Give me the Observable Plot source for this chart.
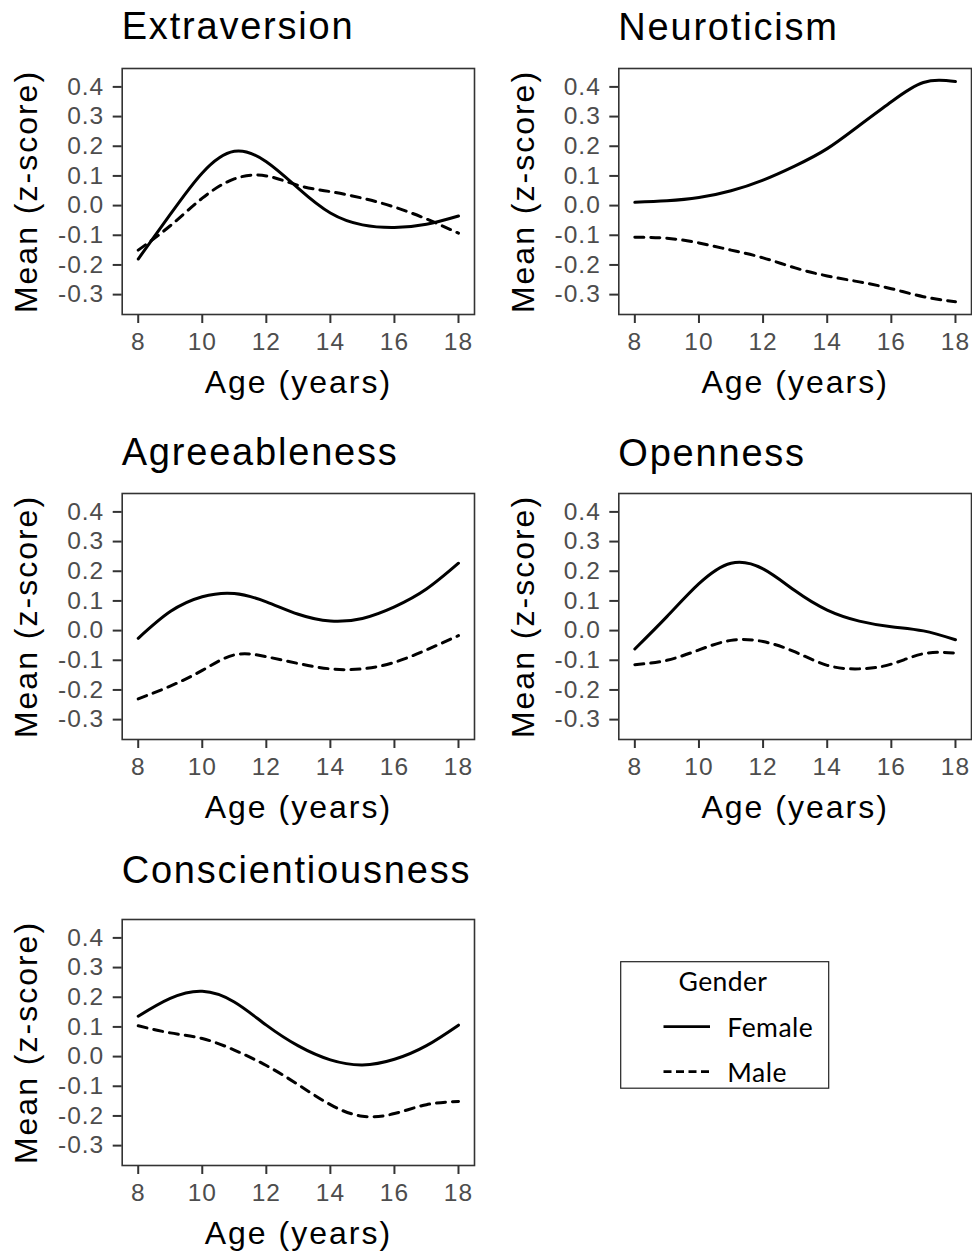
<!DOCTYPE html>
<html><head><meta charset="utf-8">
<script src="https://cdn.jsdelivr.net/npm/d3@7"></script>
<script src="https://cdn.jsdelivr.net/npm/@observablehq/plot@0.6"></script>
<style>
body{margin:0;background:#fff;}
#wrap{position:relative;width:972px;height:1251px;overflow:hidden;background:#fff;font-family:"Liberation Sans",Arial,sans-serif;}
.panel{position:absolute;}
.ptitle{position:absolute;font-size:38px;line-height:38px;letter-spacing:1.8px;color:#000;white-space:nowrap;}
</style></head><body><div id="wrap"></div>
<script>
// ---- data ----
const ages = [8, 9, 10, 11, 12, 13, 14, 15, 16, 17, 18];
const traits = ["Extraversion", "Neuroticism", "Agreeableness", "Openness", "Conscientiousness"];
const genders = ["Female", "Male"];
const femaleExtraversion = [-0.18, -0.03, 0.11, 0.183, 0.148, 0.058, -0.025, -0.065, -0.074, -0.063, -0.035];
const maleExtraversion = [-0.15, -0.068, 0.025, 0.09, 0.1, 0.068, 0.047, 0.025, -0.005, -0.045, -0.093];
const femaleNeuroticism = [0.011, 0.016, 0.027, 0.05, 0.086, 0.134, 0.192, 0.27, 0.35, 0.415, 0.418];
const maleNeuroticism = [-0.107, -0.11, -0.126, -0.15, -0.176, -0.21, -0.237, -0.257, -0.28, -0.307, -0.324];
const femaleAgreeableness = [-0.026, 0.064, 0.114, 0.125, 0.097, 0.055, 0.032, 0.041, 0.08, 0.14, 0.227];
const maleAgreeableness = [-0.23, -0.187, -0.134, -0.082, -0.088, -0.111, -0.129, -0.129, -0.107, -0.065, -0.017];
const femaleOpenness = [-0.062, 0.047, 0.158, 0.227, 0.208, 0.134, 0.069, 0.032, 0.013, -0.001, -0.031];
const maleOpenness = [-0.115, -0.1, -0.065, -0.033, -0.037, -0.072, -0.117, -0.129, -0.113, -0.078, -0.076];
const femaleConscientiousness = [0.136, 0.196, 0.22, 0.184, 0.106, 0.036, -0.011, -0.028, -0.009, 0.037, 0.106];
const maleConscientiousness = [0.104, 0.08, 0.061, 0.022, -0.03, -0.095, -0.162, -0.201, -0.192, -0.162, -0.151];
const xTicks = [8, 10, 12, 14, 16, 18];
const yTicks = [-0.3, -0.2, -0.1, 0.0, 0.1, 0.2, 0.3, 0.4];
const xLabel = "Age (years)";
const yLabel = "Mean (z-score)";
const legendTitle = "Gender";

const seriesByTrait = {
  Extraversion: [femaleExtraversion, maleExtraversion],
  Neuroticism: [femaleNeuroticism, maleNeuroticism],
  Agreeableness: [femaleAgreeableness, maleAgreeableness],
  Openness: [femaleOpenness, maleOpenness],
  Conscientiousness: [femaleConscientiousness, maleConscientiousness]
};

// ---- layout ----
const layout = [
  {left: 0,   width: 490, mL: 121.7, mR: 16,  frameTop: 67.7,  titleBase: 39.5},
  {left: 490, width: 482, mL: 128.3, mR: 1,   frameTop: 67.7,  titleBase: 40.5},
  {left: 0,   width: 490, mL: 121.7, mR: 16,  frameTop: 493.3, titleBase: 465.5},
  {left: 490, width: 482, mL: 128.3, mR: 1,   frameTop: 493.3, titleBase: 466},
  {left: 0,   width: 490, mL: 121.7, mR: 16,  frameTop: 919.3, titleBase: 883}
];
const MT = 20, FH = 246, MB = 88;
const font = "'Liberation Sans', Arial, sans-serif";
const wrap = document.getElementById("wrap");

traits.forEach((trait, i) => {
  const L = layout[i];
  const rows = [];
  genders.forEach((g, gi) => {
    seriesByTrait[trait][gi].forEach((v, k) => rows.push({age: ages[k], value: v, gender: g}));
  });
  const chart = Plot.plot({
    width: L.width,
    height: MT + FH + MB,
    marginLeft: L.mL, marginRight: L.mR, marginTop: MT, marginBottom: MB,
    style: {fontFamily: font, background: "transparent", overflow: "visible", letterSpacing: "1px"},
    x: {domain: [7.5, 18.5]},
    y: {domain: [-0.367, 0.462]},
    marks: [
      Plot.axisX({ticks: xTicks, tickFormat: d => String(d), tickSize: 9, tickPadding: 9, fontSize: 24.5,
                  stroke: "#333", fill: "#4d4d4d", strokeWidth: 2, label: null}),
      Plot.axisY({ticks: yTicks, tickFormat: d => d.toFixed(1), tickSize: 9, tickPadding: 9, fontSize: 24.5,
                  stroke: "#333", fill: "#4d4d4d", strokeWidth: 2, label: null}),
      Plot.line(rows.filter(d => d.gender === "Female"), {x: "age", y: "value", stroke: "#000", strokeWidth: 3, curve: "natural"}),
      Plot.line(rows.filter(d => d.gender === "Male"), {x: "age", y: "value", stroke: "#000", strokeWidth: 3, strokeDasharray: "9,7", curve: "natural"}),
      Plot.frame({stroke: "#333", strokeWidth: 1.6}),
      Plot.text([xLabel], {frameAnchor: "bottom", dy: 78, lineAnchor: "bottom", textAnchor: "middle", fontSize: 32, fill: "#000"}),
      Plot.text([yLabel], {frameAnchor: "left", rotate: -90, dx: -95, lineAnchor: "middle", textAnchor: "middle", fontSize: 32, fill: "#000"})
    ]
  });
  chart.querySelectorAll('g[aria-label="text"] text').forEach(t => t.style.letterSpacing = "2px");
  const holder = document.createElement("div");
  holder.className = "panel";
  holder.style.left = L.left + "px";
  holder.style.top = (L.frameTop - MT) + "px";
  holder.appendChild(chart);
  wrap.appendChild(holder);

  const title = document.createElement("div");
  title.className = "ptitle";
  title.textContent = trait;
  title.style.left = (L.left + L.mL) + "px";
  title.style.top = (L.titleBase - 32.2) + "px";
  wrap.appendChild(title);
});

// ---- legend ----
const lg = d3.create("svg").attr("width", 972).attr("height", 1251)
  .style("position", "absolute").style("left", "0px").style("top", "0px")
  .style("font-family", "Lato, 'Open Sans', sans-serif");
lg.append("rect").attr("x", 620.7).attr("y", 961.7).attr("width", 208).attr("height", 126.5)
  .attr("fill", "none").attr("stroke", "#222").attr("stroke-width", 1.2);
lg.append("text").attr("x", 723).attr("y", 991).attr("text-anchor", "middle")
  .attr("font-size", 26.5).attr("letter-spacing", "0.4px").attr("fill", "#000").text(legendTitle);
const legendRows = [{y: 1026.7, base: 1036.7, dash: null}, {y: 1071.7, base: 1081.5, dash: "8,4.5"}];
genders.forEach((g, gi) => {
  const r = legendRows[gi];
  const ln = lg.append("line").attr("x1", 663.5).attr("x2", 710).attr("y1", r.y).attr("y2", r.y)
    .attr("stroke", "#000").attr("stroke-width", 2.8);
  if (r.dash) ln.attr("stroke-dasharray", r.dash);
  lg.append("text").attr("x", 727.3).attr("y", r.base).attr("font-size", 26.5).attr("letter-spacing", "0.5px")
    .attr("fill", "#000").text(g);
});
wrap.appendChild(lg.node());
</script></body></html>
